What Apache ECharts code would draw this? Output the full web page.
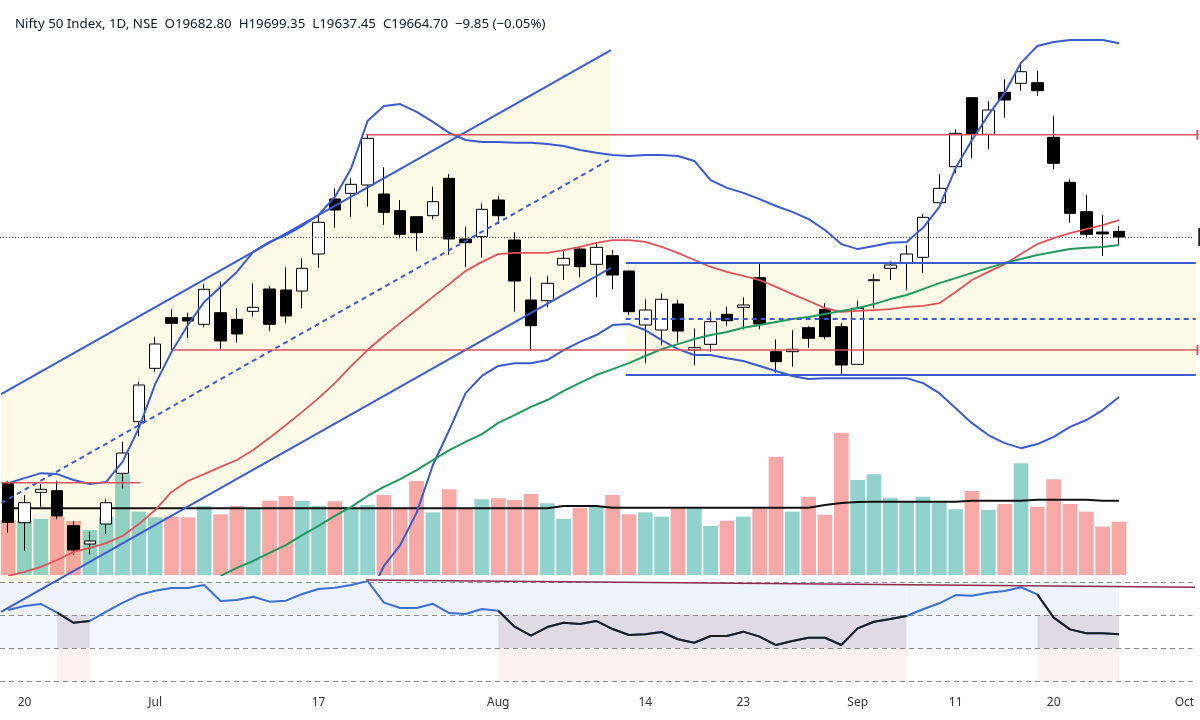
<!DOCTYPE html>
<html><head><meta charset="utf-8">
<script src="https://cdn.jsdelivr.net/npm/echarts/dist/echarts.min.js"></script>
<style>html,body{margin:0;padding:0;background:#fff;}#c{width:1200px;height:720px;}</style>
</head><body><div id="c"></div>
<script>
// ---------- categories (trading days, plus 4 empty future slots) ----------
const dates = [
 '2023-06-19','2023-06-20','2023-06-21','2023-06-22','2023-06-23','2023-06-26','2023-06-27','2023-06-28','2023-06-30',
 '2023-07-03','2023-07-04','2023-07-05','2023-07-06','2023-07-07','2023-07-10','2023-07-11','2023-07-12','2023-07-13','2023-07-14',
 '2023-07-17','2023-07-18','2023-07-19','2023-07-20','2023-07-21','2023-07-24','2023-07-25','2023-07-26','2023-07-27','2023-07-28','2023-07-31',
 '2023-08-01','2023-08-02','2023-08-03','2023-08-04','2023-08-07','2023-08-08','2023-08-09','2023-08-10','2023-08-11','2023-08-14',
 '2023-08-16','2023-08-17','2023-08-18','2023-08-21','2023-08-22','2023-08-23','2023-08-24','2023-08-25','2023-08-28','2023-08-29','2023-08-30','2023-08-31',
 '2023-09-01','2023-09-04','2023-09-05','2023-09-06','2023-09-07','2023-09-08','2023-09-11','2023-09-12','2023-09-13','2023-09-14','2023-09-15',
 '2023-09-18','2023-09-20','2023-09-21','2023-09-22','2023-09-25','2023-09-26',
 '2023-09-27','2023-09-28','2023-09-29','2023-10-02'
];
const tickIndex = [1, 9, 19, 30, 39, 45, 52, 58, 64, 72];
const tickText  = ['20','Jul','17','Aug','14','23','Sep','11','20','Oct'];

// ---------- OHLC ----------
const opens = [18876.5,18750.5,18847.7,18852.9,18740.9,18682.3,18746.3,18908.5,19073.7,19244.5,19406.5,19406.5,19385.3,19422.5,19401.3,19426.9,19498.3,19495.1,19491.9,19610.3,19786.3,19804.5,19831.1,19802.3,19748.9,19729.7,19732.9,19852.5,19658.3,19665.7,19783.1,19655.1,19463.1,19460.9,19575.1,19626.3,19577.3,19604.9,19555.9,19383.1,19367.1,19450.3,19303.1,19321.3,19417.3,19439.7,19534.5,19297.7,19297.7,19374.5,19433.3,19377.7,19257.3,19525.0,19564.5,19582.5,19599.7,19774.5,19889.7,20110.5,19993.3,20127.7,20156.5,20158.5,19983.7,19839.7,19745.7,19680.7,19682.8];
const highs = [18883.9,18839.1,18874.3,18884.9,18755.9,18721.7,18826.3,19009.7,19201.7,19344.7,19434.3,19422.5,19514.3,19521.7,19436.5,19516.5,19507.9,19567.7,19596.5,19731.9,19820.5,19852.5,19991.9,19887.7,19783.1,19729.7,19825.7,19866.3,19697.7,19772.5,19795.9,19679.7,19537.7,19539.9,19619.9,19633.7,19644.5,19623.1,19559.1,19465.3,19484.5,19463.1,19372.5,19425.7,19441.7,19471.7,19583.7,19337.3,19367.1,19379.9,19452.5,19388.5,19460.9,19546.3,19588.9,19639.1,19738.3,19866.3,20009.3,20110.5,20099.9,20169.3,20222.5,20196.9,20051.9,19849.3,19799.1,19735.1,19699.35];
const lows = [18718.5,18660.9,18799.7,18761.3,18647.1,18647.1,18714.3,18860.5,19026.7,19233.7,19303.1,19340.5,19375.7,19305.3,19326.5,19409.7,19363.9,19388.5,19436.5,19566.5,19694.5,19729.7,19761.7,19703.1,19660.5,19619.9,19721.3,19607.1,19567.7,19598.5,19706.3,19425.7,19299.9,19439.7,19527.1,19535.7,19471.7,19497.3,19415.1,19260.5,19319.1,19326.5,19255.1,19297.7,19379.9,19369.3,19369.3,19230.5,19249.7,19310.5,19337.3,19223.1,19257.3,19436.5,19527.1,19495.1,19550.5,19774.5,19868.5,19916.5,19945.3,20046.5,20132.9,20116.9,19881.3,19710.5,19660.5,19603.9,19637.45];
const closes = [18751.7,18814.5,18857.3,18771.9,18663.1,18691.9,18814.5,18973.5,19191.1,19322.3,19388.5,19395.9,19497.3,19331.9,19354.3,19439.7,19385.3,19411.9,19564.5,19711.7,19751.1,19833.3,19980.5,19743.7,19673.3,19678.5,19777.7,19658.3,19646.5,19753.3,19732.9,19523.9,19380.9,19516.5,19596.5,19569.7,19631.7,19543.1,19425.7,19431.1,19465.3,19363.9,19310.5,19393.7,19396.9,19447.1,19386.3,19265.7,19305.3,19340.5,19345.7,19255.1,19436.5,19528.0,19575.1,19610.3,19727.7,19820.5,19996.5,19993.3,20071.1,20103.1,20193.7,20132.9,19900.5,19740.5,19673.3,19674.55,19664.7];

// ---------- volume (arbitrary units) ----------
const volumes = [165,162,168,175,162,135,174,302,190,173,175,173,207,182,207,200,223,237,223,207,221,198,210,240,200,282,188,257,198,227,230,225,243,215,168,202,207,240,182,188,175,203,200,147,163,175,200,355,190,235,180,427,285,302,232,220,235,217,197,252,195,213,335,205,287,213,190,145,160];
const volumeMA = [200,200,200,200,200,200,200,200,200,200,200,200,200,200,200,200,200,200,200,200,200,200,200,200,200,200,200,200,200,200,200,200,200,200,207,207,207,202,202,202,202,202,202,202,202,202,202,202,202,202,210,216,219,220,220,220,220,220,220,223,223,223,223,226,226,226,226,223,223];

// ---------- Bollinger bands & 50 MA ----------
const bbUpper = [18877,18893,18909,18906,18887,18874,18881,18945,19053,19194,19297,19383,19457,19505,19553,19617,19649,19671,19700,19735,19793,19885,20036,20084,20090,20065,20033,19998,19975,19969,19969,19966,19966,19962,19956,19943,19934,19927,19924,19927,19927,19924,19908,19847,19822,19806,19786,19764,19745,19722,19687,19642,19626,19636,19646,19649,19694,19761,19886,19975,20055,20126,20222,20276,20289,20295,20295,20295,20285];
const bbBasis = [18580,18593,18609,18631,18657,18670,18685,18708,18746,18791,18849,18884,18906,18929,18951,18983,19022,19063,19105,19149,19197,19252,19303,19348,19390,19431,19473,19514,19556,19585,19610,19614,19614,19614,19623,19633,19646,19655,19655,19649,19633,19614,19591,19569,19553,19540,19527,19505,19482,19460,19437,19425,19428,19431,19434,19441,19444,19453,19489,19527,19553,19578,19610,19642,19661,19677,19690,19703,19719];
const bbLower = [null,null,null,null,null,null,null,null,null,null,null,null,null,null,null,null,null,null,null,null,null,null,18503,18612,18679,18782,18935,19047,19165,19220,19252,19261,19261,19271,19303,19329,19351,19383,19386,19367,19335,19306,19287,19287,19277,19268,19252,19236,19220,19210,19213,19213,19213,19213,19213,19213,19197,19165,19117,19069,19031,19005,18989,19002,19025,19057,19079,19111,19153];
const ma50 = [null,null,null,null,null,null,null,null,null,null,null,null,null,18580,18606,18628,18654,18679,18711,18740,18772,18801,18836,18865,18890,18919,18951,18983,19009,19034,19070,19095,19121,19143,19172,19198,19223,19242,19261,19284,19306,19322,19338,19351,19361,19374,19383,19393,19402,19409,19418,19428,19437,19450,19466,19479,19498,19517,19533,19550,19566,19582,19594,19607,19617,19626,19630,19633,19639];

// ---------- RSI ----------
const rsi = [63.0,65.5,66.7,61.4,55.3,56.4,62.0,67.3,72.1,74.7,76.4,76.4,78.2,68.5,69.1,71.1,68.1,68.7,72.7,75.8,76.5,78.2,80.6,67.5,64.2,64.2,66.8,61.2,60.6,63.6,62.6,52.9,47.5,52.7,55.3,54.5,56.4,51.5,47.9,48.3,49.7,45.3,43.2,47.3,47.3,49.9,46.9,41.8,44.2,46.2,46.2,41.8,51.9,55.9,57.6,59.4,63.5,67.1,72.1,71.7,73.5,74.5,76.8,72.5,58.4,51.3,48.9,48.9,48.3];
const rsiLevels = [80, 60, 40, 20];
const rsiTrend = [[21.9, 81.2], [72.9, 76.8]];

// ---------- drawings (bar index, price) ----------
const channelX = [-0.43, 36.9];
const channelUpper = [19162, 20263];
const channelLower = [18465, 19566];
const zoneX = [37.8, 72.7];
const zonePrices = [19581.5, 19223.1];
const redLevels = [[21.9, 72.8, 19992], [10.1, 72.8, 19303], [-0.43, 8.1, 18878]];

// ---------- build ----------
const N = dates.length;
const n = closes.length;
const candleData = opens.map((o, i) => [o, closes[i], lows[i], highs[i]]);
const volData = volumes.map((v, i) => ({
  value: v,
  itemStyle: { color: closes[i] >= opens[i] ? 'rgba(38,166,154,0.5)' : 'rgba(239,83,80,0.5)' }
}));
const rsiBlack = rsi.map((v, i) => (v < 60 || (i + 1 < n && rsi[i + 1] < 60)) ? v : null);

// RSI state spans
const spans = [];
for (let i = 0; i < n; i++) {
  const below = rsi[i] < 60;
  const a = i === 0 ? -0.5 : i - 1, b = i;
  const last = spans[spans.length - 1];
  if (last && last.below === below) last.b = b; else spans.push({ below, a, b });
}

const BLUE = '#3a5bd0';
const RED = '#d9535f';
const font = 'Noto Sans, Open Sans, sans-serif';

function seg(api, a, b, style) {
  const p1 = api.coord(a), p2 = api.coord(b);
  return { type: 'line', shape: { x1: p1[0], y1: p1[1], x2: p2[0], y2: p2[1] }, style: style };
}

const chart = echarts.init(document.getElementById('c'), null, { renderer: 'canvas' });
const gridL = -1, gridW = 1193.55;

const option = {
  animation: false,
  backgroundColor: '#ffffff',
  title: {
    text: 'Nifty 50 Index, 1D, NSE  O' + opens[n-1].toFixed(2) + '  H' + highs[n-1].toFixed(2) + '  L' + lows[n-1].toFixed(2) + '  C' + closes[n-1].toFixed(2) +
      '  \u2212' + Math.abs(closes[n-1] - closes[n-2]).toFixed(2) + ' (\u2212' + Math.abs((closes[n-1] - closes[n-2]) / closes[n-2] * 100).toFixed(2) + '%)',
    left: 10, top: 13,
    textStyle: { fontSize: 13.3, fontWeight: 'normal', color: '#131722', fontFamily: font }
  },
  grid: [
    { left: gridL, width: gridW, top: 5, height: 570 },
    { left: gridL, width: gridW, top: 582, height: 99 }
  ],
  xAxis: [
    { type: 'category', gridIndex: 0, data: dates, show: false, boundaryGap: true },
    { type: 'category', gridIndex: 1, data: dates, boundaryGap: true,
      axisLine: { show: false }, axisTick: { show: false }, splitLine: { show: false },
      axisLabel: {
        interval: (idx) => tickIndex.includes(idx),
        formatter: (val, idx) => tickText[tickIndex.indexOf(idx)],
        margin: 16, fontSize: 12, color: '#333', fontFamily: font
      }
    },
    { type: 'value', gridIndex: 0, min: -0.5, max: N - 0.5, show: false },
    { type: 'value', gridIndex: 1, min: -0.5, max: N - 0.5, show: false }
  ],
  yAxis: [
    { type: 'value', gridIndex: 0, min: 18583.1, max: 20407.1, show: false, splitLine: { show: false } },
    { type: 'value', gridIndex: 0, min: 0, max: 1710, show: false, splitLine: { show: false } },
    { type: 'value', gridIndex: 1, min: 20, max: 80, show: false, splitLine: { show: false } }
  ],
  series: [
    // fills of drawings
    {
      type: 'custom', xAxisIndex: 2, yAxisIndex: 0, silent: true, z: 1,
      data: [[30, 19500]],
      renderItem: (params, api) => {
        const ch = [api.coord([channelX[0], channelUpper[0]]), api.coord([channelX[1], channelUpper[1]]),
                    api.coord([channelX[1], channelLower[1]]), api.coord([channelX[0], channelLower[0]])];
        const z1 = api.coord([zoneX[0], zonePrices[0]]), z2 = api.coord([zoneX[1], zonePrices[1]]);
        return { type: 'group', children: [
          { type: 'polygon', shape: { points: ch }, style: { fill: '#fdfbe8' } },
          { type: 'rect', shape: { x: z1[0], y: z1[1], width: z2[0] - z1[0], height: z2[1] - z1[1] }, style: { fill: '#fdfbe8' } }
        ]};
      }
    },
    // RSI shading
    {
      type: 'custom', xAxisIndex: 3, yAxisIndex: 2, silent: true, z: 1,
      data: [[30, 50]],
      renderItem: (params, api) => {
        const kids = [];
        const rect = (a, b, lo, hi, fill) => {
          const p1 = api.coord([a, hi]), p2 = api.coord([b, lo]);
          kids.push({ type: 'rect', shape: { x: p1[0], y: p1[1], width: p2[0] - p1[0], height: p2[1] - p1[1] }, style: { fill } });
        };
        spans.forEach(s => {
          if (s.below) {
            rect(s.a, s.b, 60, 80, '#eef2fb');
            rect(s.a, s.b, 40, 60, '#dedbe4');
            rect(s.a, s.b, 20, 40, '#fdf2f2');
          } else {
            rect(s.a, s.b, 60, 80, '#eef2fb');
            rect(s.a, s.b, 40, 60, '#f3f6fc');
          }
        });
        return { type: 'group', children: kids };
      }
    },
    // volume
    { name: 'Volume', type: 'bar', xAxisIndex: 0, yAxisIndex: 1, data: volData, barCategoryGap: '10%', z: 2, silent: true },
    { name: 'Vol MA', type: 'line', xAxisIndex: 0, yAxisIndex: 1, data: volumeMA, symbol: 'none', z: 3, silent: true,
      lineStyle: { color: '#111', width: 2 } },
    // candles
    { name: 'Nifty', type: 'candlestick', xAxisIndex: 0, yAxisIndex: 0, data: candleData, barWidth: 12, z: 4, silent: true,
      itemStyle: { color: '#ffffff', color0: '#000000', borderColor: '#000000', borderColor0: '#000000', borderWidth: 1 },
      markLine: { silent: true, symbol: 'none', label: { show: false },
        lineStyle: { color: '#444', type: [1, 2], width: 1 },
        data: [{ yAxis: closes[n-1] }] }
    },
    // indicator lines
    { name: 'BB upper', type: 'line', xAxisIndex: 0, yAxisIndex: 0, data: bbUpper, symbol: 'none', z: 5, silent: true, lineStyle: { color: BLUE, width: 2 } },
    { name: 'BB lower', type: 'line', xAxisIndex: 0, yAxisIndex: 0, data: bbLower, symbol: 'none', z: 5, silent: true, lineStyle: { color: BLUE, width: 2 } },
    { name: 'BB basis', type: 'line', xAxisIndex: 0, yAxisIndex: 0, data: bbBasis, symbol: 'none', z: 5, silent: true, lineStyle: { color: '#e0515c', width: 1.8 } },
    { name: 'MA50', type: 'line', xAxisIndex: 0, yAxisIndex: 0, data: ma50, symbol: 'none', z: 5, silent: true, lineStyle: { color: '#1f9a5c', width: 2 } },
    // drawings: lines
    {
      type: 'custom', xAxisIndex: 2, yAxisIndex: 0, silent: true, z: 6,
      data: [[30, 19500]],
      renderItem: (params, api) => {
        const mid = [(channelUpper[0] + channelLower[0]) / 2, (channelUpper[1] + channelLower[1]) / 2];
        const zMid = (zonePrices[0] + zonePrices[1]) / 2;
        const solid = { stroke: BLUE, lineWidth: 2 };
        const dashed = { stroke: BLUE, lineWidth: 2, lineDash: [5, 4] };
        const kids = [
          seg(api, [channelX[0], channelUpper[0]], [channelX[1], channelUpper[1]], solid),
          seg(api, [channelX[0], channelLower[0]], [channelX[1], channelLower[1]], solid),
          seg(api, [channelX[0], mid[0]], [channelX[1], mid[1]], dashed),
          seg(api, [zoneX[0], zonePrices[0]], [zoneX[1], zonePrices[0]], solid),
          seg(api, [zoneX[0], zonePrices[1]], [zoneX[1], zonePrices[1]], solid),
          seg(api, [zoneX[0], zMid], [zoneX[1], zMid], dashed)
        ];
        redLevels.forEach(l => {
          kids.push(seg(api, [l[0], l[2]], [l[1], l[2]], { stroke: RED, lineWidth: 1.5 }));
          if (l[1] > 72) {
            const p = api.coord([l[1], l[2]]);
            kids.push({ type: 'line', shape: { x1: p[0], y1: p[1] - 5, x2: p[0], y2: p[1] + 5 }, style: { stroke: RED, lineWidth: 2 } });
          }
        });
        const lp = api.coord([72.85, closes[n-1]]);
        kids.push({ type: 'rect', shape: { x: lp[0], y: lp[1] - 9, width: 6, height: 18 }, style: { fill: '#222' } });
        return { type: 'group', children: kids };
      }
    },
    // RSI
    { name: 'RSI', type: 'line', xAxisIndex: 1, yAxisIndex: 2, data: rsi, symbol: 'none', z: 5, silent: true,
      lineStyle: { color: '#3b6fd4', width: 2 },
      markLine: { silent: true, symbol: 'none', label: { show: false },
        lineStyle: { color: '#8a8a8a', type: [5, 4], width: 1 },
        data: rsiLevels.map(v => ({ yAxis: v })) }
    },
    { name: 'RSI low', type: 'line', xAxisIndex: 1, yAxisIndex: 2, data: rsiBlack, symbol: 'none', z: 6, silent: true,
      lineStyle: { color: '#1e1e1e', width: 2 } },
    { name: 'RSI trend', type: 'line', xAxisIndex: 3, yAxisIndex: 2, data: rsiTrend, symbol: 'none', z: 6, silent: true,
      clip: false, lineStyle: { color: '#8e2b4b', width: 1.5 } }
  ]
};
chart.setOption(option);
</script></body></html>
